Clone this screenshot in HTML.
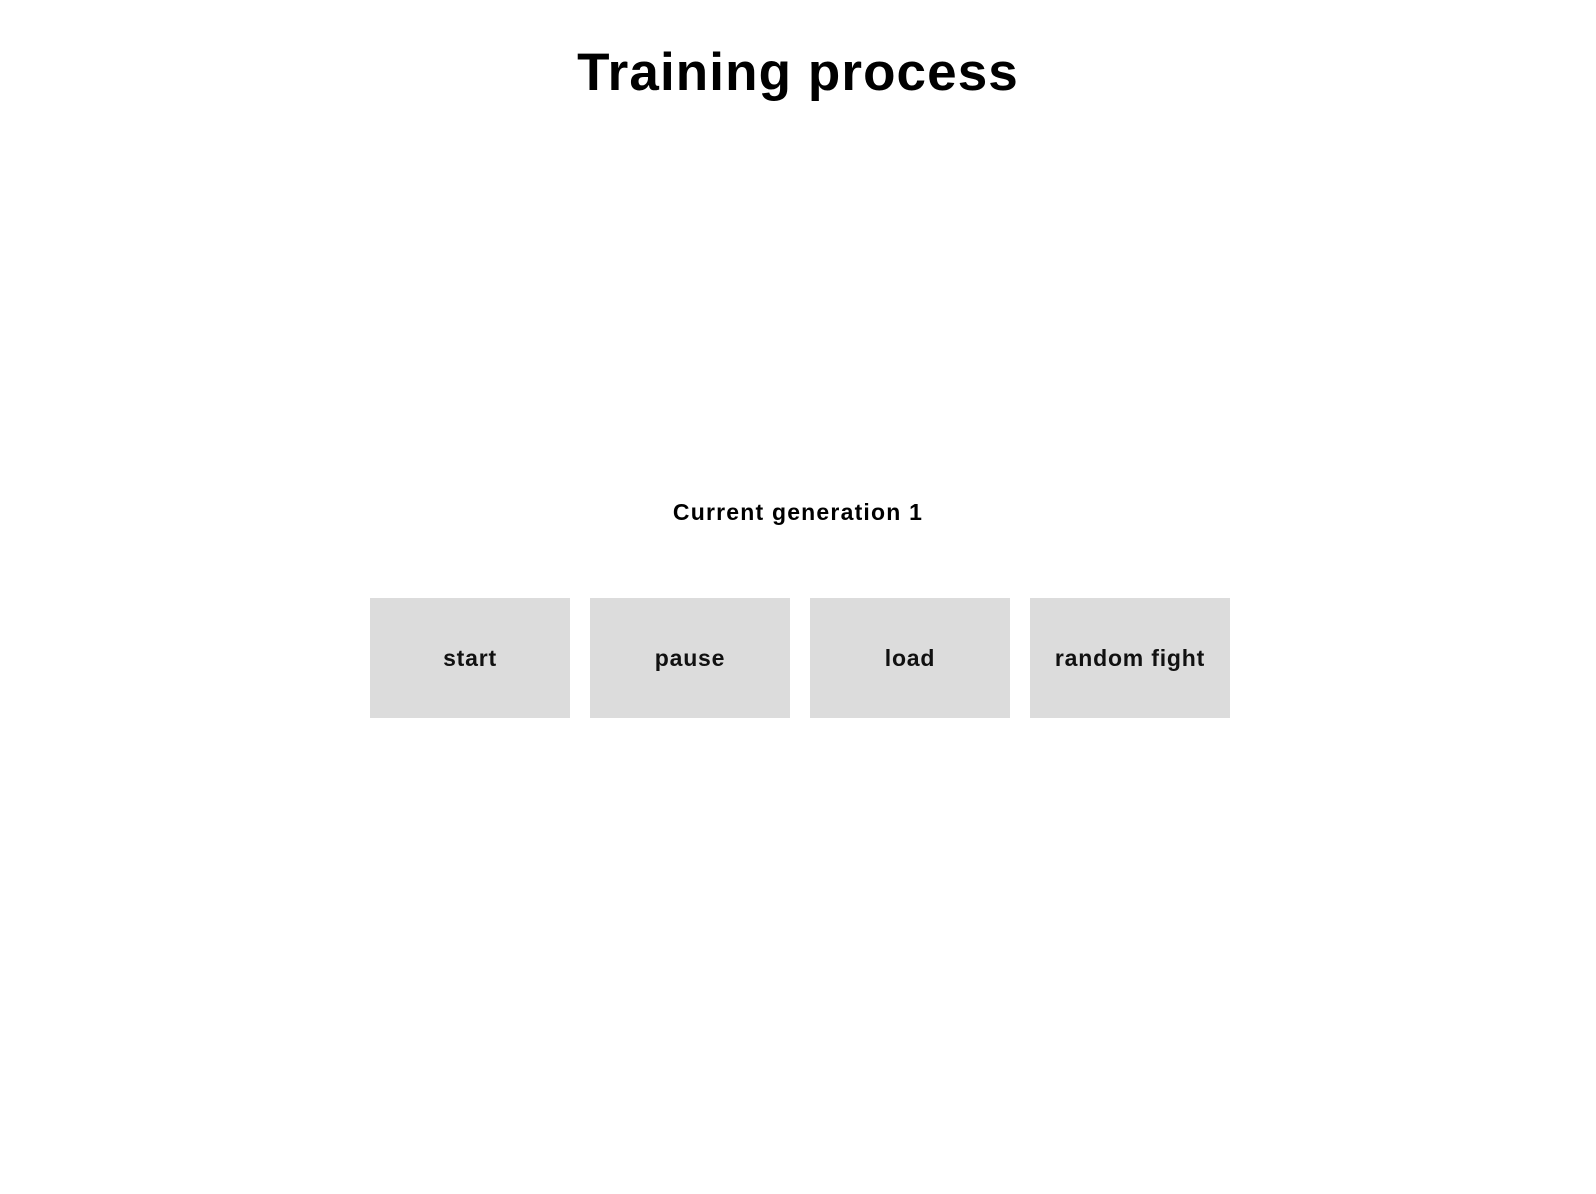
<!DOCTYPE html>
<html><head><style>
body{margin:0;width:1596px;height:1194px;background:#fff;position:relative;font-family:"Liberation Sans",sans-serif;overflow:hidden}
.t{position:absolute;left:0;width:1596px;text-align:center;font-weight:bold;color:#000}
.b{position:absolute;top:598px;width:200px;height:120px;background:#dcdcdc;display:flex;align-items:center;justify-content:center;font-weight:bold;font-size:23px;letter-spacing:0.8px;color:#111}
</style></head><body>
<div class="t" style="top:42px;font-size:53px;letter-spacing:1.1px">Training process</div>
<div class="t" style="top:499px;font-size:23px;letter-spacing:1.2px">Current generation 1</div>
<div class="b" style="left:370px">start</div>
<div class="b" style="left:590px">pause</div>
<div class="b" style="left:810px">load</div>
<div class="b" style="left:1030px">random fight</div>
</body></html>
